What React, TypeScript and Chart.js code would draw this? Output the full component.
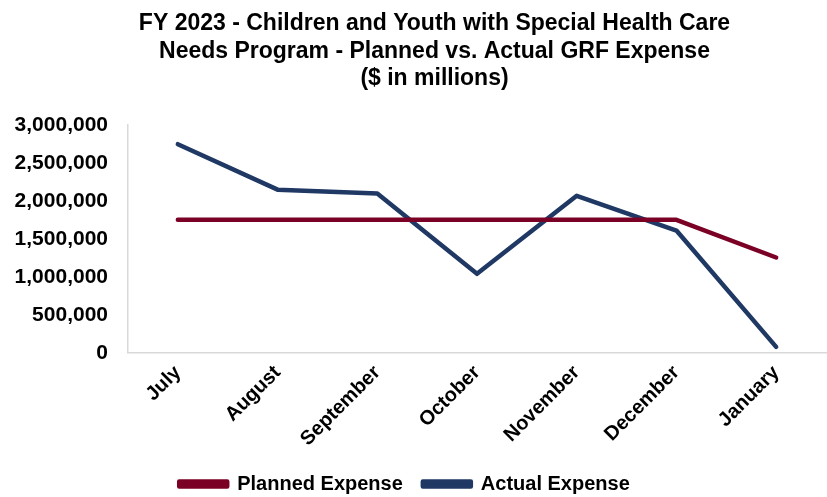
import React, { useEffect, useRef } from "react";
import { Chart, registerables } from "chart.js";

Chart.register(...registerables);

const months = ["July", "August", "September", "October", "November", "December", "January"];
const plannedExpense = [1750000, 1750000, 1750000, 1750000, 1750000, 1750000, 1255000];
const actualExpense = [2745000, 2147000, 2095000, 1040000, 2067000, 1610000, 80000];
const yTicks = [0, 500000, 1000000, 1500000, 2000000, 2500000, 3000000];
const titleLines = [
  "FY 2023 - Children and Youth with Special Health Care",
  "Needs Program - Planned vs. Actual GRF Expense",
  "($ in millions)",
];

const PLANNED_COLOR = "#7B0026";
const ACTUAL_COLOR = "#1F3864";
const FONT = "'Liberation Sans', Arial, sans-serif";

const shiftPlugin = {
  id: "shiftBlocks",
  afterLayout(chart: any) {
    const t = chart.titleBlock;
    if (t) {
      t.left += 14;
      t.right += 14;
    }
    const l = chart.legend;
    if (l) {
      l.left -= 16;
      l.right -= 16;
    }
  },
};

export default function App() {
  const ref = useRef<HTMLCanvasElement | null>(null);
  useEffect(() => {
    if (!ref.current) return;
    const chart = new Chart(ref.current, {
      type: "line",
      data: {
        labels: months,
        datasets: [
          {
            label: "Planned Expense",
            data: plannedExpense,
            borderColor: PLANNED_COLOR,
            backgroundColor: PLANNED_COLOR,
            borderWidth: 4.5,
            pointRadius: 0,
            borderCapStyle: "round",
            borderJoinStyle: "round",
            tension: 0,
          },
          {
            label: "Actual Expense",
            data: actualExpense,
            borderColor: ACTUAL_COLOR,
            backgroundColor: ACTUAL_COLOR,
            borderWidth: 4.5,
            pointRadius: 0,
            borderCapStyle: "round",
            borderJoinStyle: "round",
            tension: 0,
          },
        ],
      },
      plugins: [shiftPlugin],
      options: {
        responsive: false,
        animation: false,
        layout: { padding: { left: 15, right: 1, top: 10, bottom: -7 } },
        plugins: {
          title: {
            display: true,
            text: titleLines,
            color: "#000",
            font: { family: FONT, size: 23, weight: "bold", lineHeight: 1.2 },
            padding: { top: 0, bottom: 32 },
          },
          legend: {
            position: "bottom",
            labels: {
              color: "#000",
              font: { family: FONT, size: 20, weight: "bold" },
              boxWidth: 48,
              boxHeight: 5,
              padding: 20,
            },
          },
          tooltip: { enabled: false },
        },
        scales: {
          x: {
            offset: true,
            grid: { display: false, drawTicks: false },
            border: { display: true, color: "#D9D9D9", width: 1.5 },
            afterFit: (scale: any) => {
              scale.paddingLeft = 0;
              scale.paddingRight = 0;
              scale.height = scale.height - 5;
            },
            ticks: {
              color: "#000",
              font: { family: FONT, size: 20, weight: "bold" },
              maxRotation: 45,
              minRotation: 45,
              padding: 8,
            },
          },
          y: {
            min: 0,
            max: 3000000,
            grid: { display: false, drawTicks: false },
            border: { display: true, color: "#D9D9D9", width: 1.5 },
            afterFit: (scale: any) => {
              scale.width = 113;
            },
            afterBuildTicks: (scale: any) => {
              scale.ticks = yTicks.map((v) => ({ value: v }));
            },
            ticks: {
              color: "#000",
              font: { family: FONT, size: 21, weight: "bold" },
              padding: 20,
              callback: (v: any) => Number(v).toLocaleString("en-US"),
            },
          },
        },
      },
    });
    return () => chart.destroy();
  }, []);
  return (
    <div style={{ position: "absolute", left: 0, top: 0, width: 827, height: 497, background: "#fff" }}>
      <canvas ref={ref} width={827} height={497} />
    </div>
  );
}
